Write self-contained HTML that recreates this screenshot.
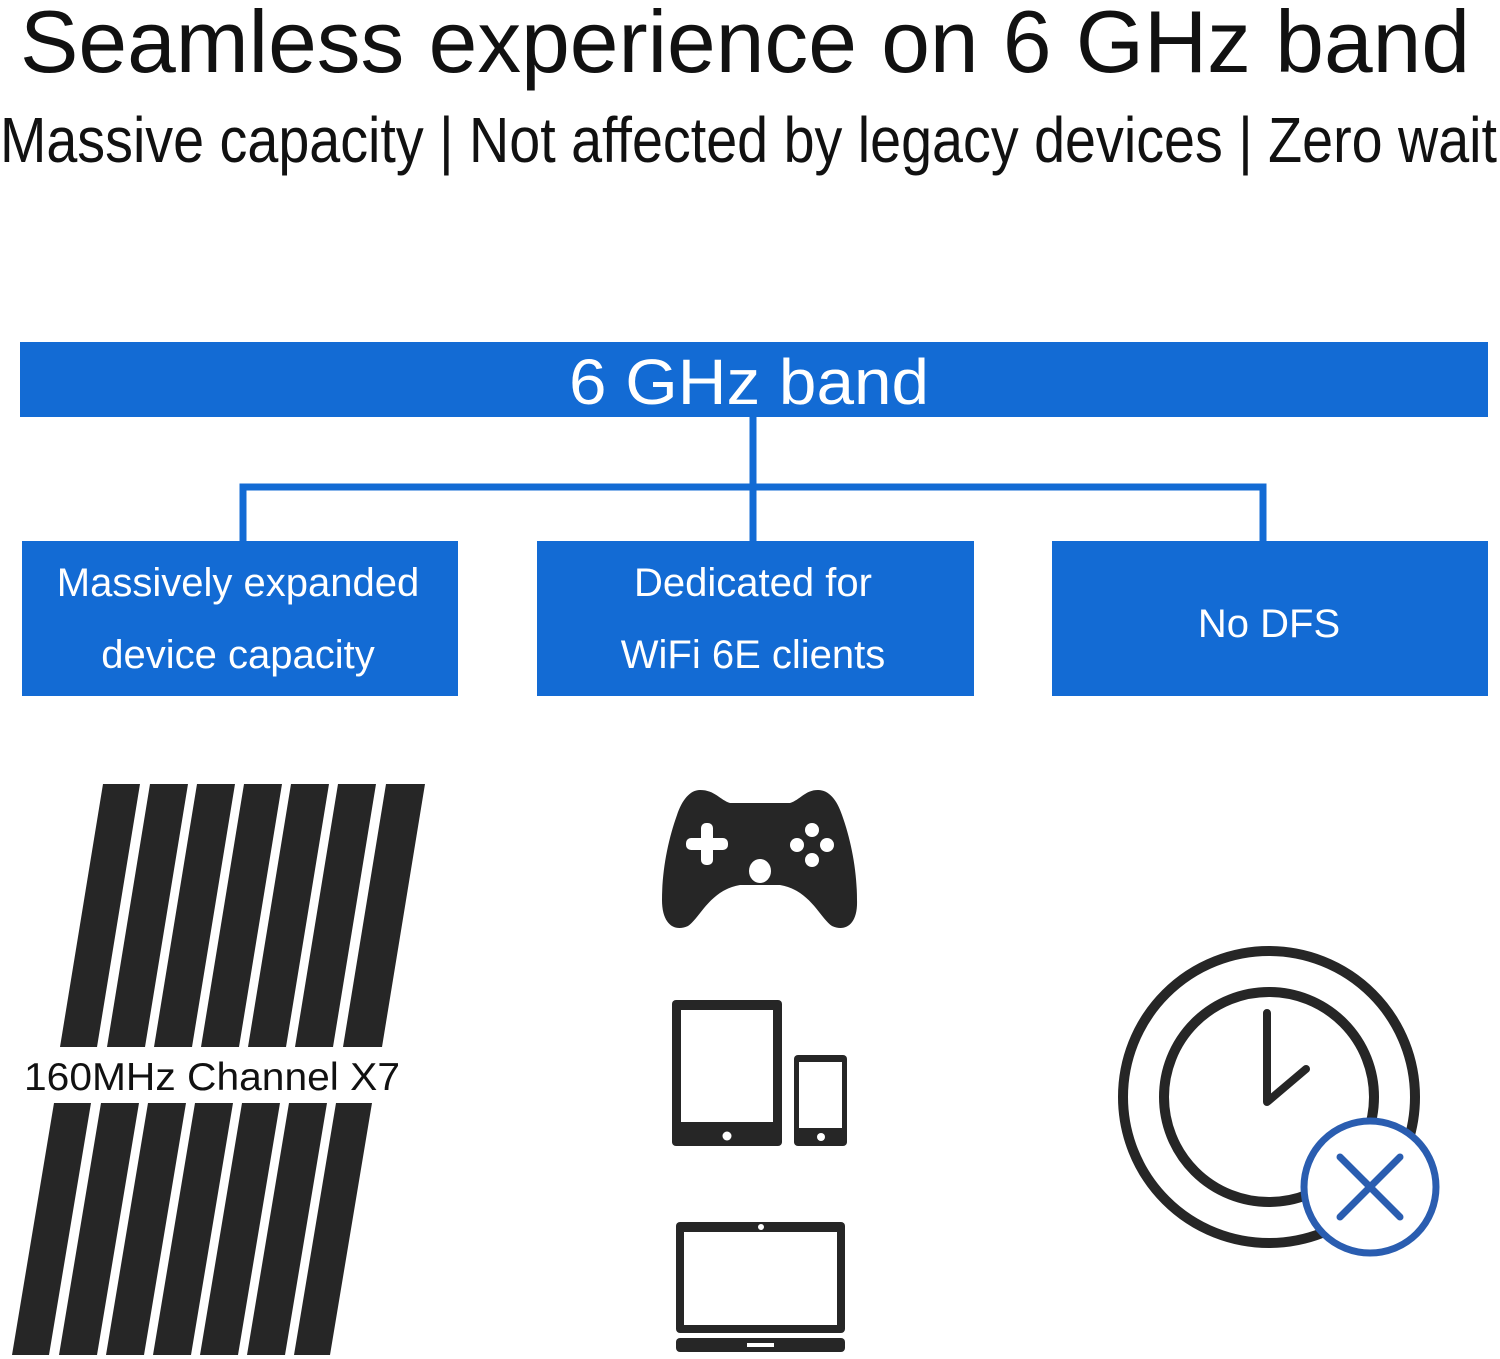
<!DOCTYPE html>
<html><head><meta charset="utf-8"><style>
html,body{margin:0;padding:0;background:#fff;width:1500px;height:1359px;overflow:hidden}
svg{display:block}
</style></head><body>
<svg width="1500" height="1359" viewBox="0 0 1500 1359" xmlns="http://www.w3.org/2000/svg" font-family="'Liberation Sans', sans-serif">
<text x="20" y="72" font-size="88" fill="#111" textLength="1450" lengthAdjust="spacingAndGlyphs">Seamless experience on 6 GHz band</text>
<text x="0" y="162" font-size="64" fill="#111" textLength="1497" lengthAdjust="spacingAndGlyphs">Massive capacity | Not affected by legacy devices | Zero wait</text>

<rect x="20" y="342" width="1468" height="75" fill="#136bd4"/>
<text x="749" y="404" font-size="64" fill="#fff" text-anchor="middle" textLength="360" lengthAdjust="spacingAndGlyphs">6 GHz band</text>
<g stroke="#136bd4" stroke-width="7" fill="none">
<line x1="753" y1="417" x2="753" y2="545"/>
<polyline points="243,545 243,487 1263,487 1263,545"/>
</g>
<rect x="22" y="541" width="436" height="155" fill="#136bd4"/>
<rect x="537" y="541" width="437" height="155" fill="#136bd4"/>
<rect x="1052" y="541" width="436" height="155" fill="#136bd4"/>
<g fill="#fff" font-size="40" text-anchor="middle">
<text x="238" y="596">Massively expanded</text>
<text x="238" y="668">device capacity</text>
<text x="753" y="596">Dedicated for</text>
<text x="753" y="668">WiFi 6E clients</text>
<text x="1269" y="637">No DFS</text>
</g>

<g fill="#262626">
<polygon points="103,784 140,784 97,1047 60,1047"/>
<polygon points="150,784 188,784 145,1047 107,1047"/>
<polygon points="197,784 235,784 192,1047 154,1047"/>
<polygon points="244,784 282,784 239,1047 201,1047"/>
<polygon points="291,784 329,784 286,1047 248,1047"/>
<polygon points="338,784 376,784 333,1047 295,1047"/>
<polygon points="386,784 425,784 382,1047 343,1047"/>
<polygon points="54,1103 91,1103 49,1355 12,1355"/>
<polygon points="101,1103 139,1103 97,1355 59,1355"/>
<polygon points="148,1103 186,1103 144,1355 106,1355"/>
<polygon points="195,1103 233,1103 191,1355 153,1355"/>
<polygon points="242,1103 280,1103 238,1355 200,1355"/>
<polygon points="289,1103 327,1103 285,1355 247,1355"/>
<polygon points="336,1103 372,1103 330,1355 294,1355"/>
</g>
<text x="212" y="1090" font-size="39" fill="#111" text-anchor="middle" textLength="376" lengthAdjust="spacingAndGlyphs">160MHz Channel X7</text>

<!-- gamepad -->
<path fill="#262626" d="M700,790 C690,790 682,800 677,815 C668,840 662,870 662,900 C662,925 675,932 688,926 C700,918 710,890 740,885 L780,885 C810,890 820,918 832,926 C845,932 858,925 857,900 C857,870 851,840 842,815 C837,800 829,790 818,790 C805,790 800,800 790,803 L730,803 C720,800 715,790 700,790 Z"/>
<g fill="#fff">
<rect x="701" y="823" width="12" height="42" rx="5"/>
<rect x="686" y="838" width="42" height="12" rx="5"/>
<circle cx="812" cy="830" r="7"/><circle cx="812" cy="860" r="7"/>
<circle cx="797" cy="845" r="7"/><circle cx="827" cy="845" r="7"/>
<ellipse cx="760" cy="871" rx="11" ry="12"/>
</g>
<!-- tablet -->
<rect x="672" y="1000" width="110" height="146" rx="4" fill="#262626"/>
<rect x="681" y="1010" width="92" height="112" fill="#fff"/>
<circle cx="727" cy="1136" r="4.5" fill="#fff"/>
<rect x="794" y="1055" width="53" height="91" rx="4" fill="#262626"/>
<rect x="799" y="1062" width="43" height="66" fill="#fff"/>
<circle cx="821" cy="1137" r="4" fill="#fff"/>
<!-- laptop -->
<rect x="676" y="1222" width="169" height="111" rx="4" fill="#262626"/>
<rect x="684" y="1232" width="153" height="93" fill="#fff"/>
<circle cx="761" cy="1227" r="3" fill="#fff"/>
<rect x="676" y="1338" width="169" height="14" rx="4" fill="#262626"/>
<rect x="747" y="1343" width="27" height="4" fill="#fff"/>
<!-- clock -->
<circle cx="1269" cy="1097" r="146" fill="none" stroke="#262626" stroke-width="10"/>
<circle cx="1269" cy="1097" r="105" fill="none" stroke="#262626" stroke-width="10"/>
<polyline points="1267,1013 1267,1102 1306,1069" fill="none" stroke="#262626" stroke-width="8" stroke-linecap="round" stroke-linejoin="round"/>
<circle cx="1370" cy="1187" r="66" fill="#fff" stroke="#2a5db0" stroke-width="7"/>
<g stroke="#2a5db0" stroke-width="7" stroke-linecap="round">
<line x1="1340" y1="1157" x2="1400" y2="1217"/>
<line x1="1400" y1="1157" x2="1340" y2="1217"/>
</g>
</svg>
</body></html>
